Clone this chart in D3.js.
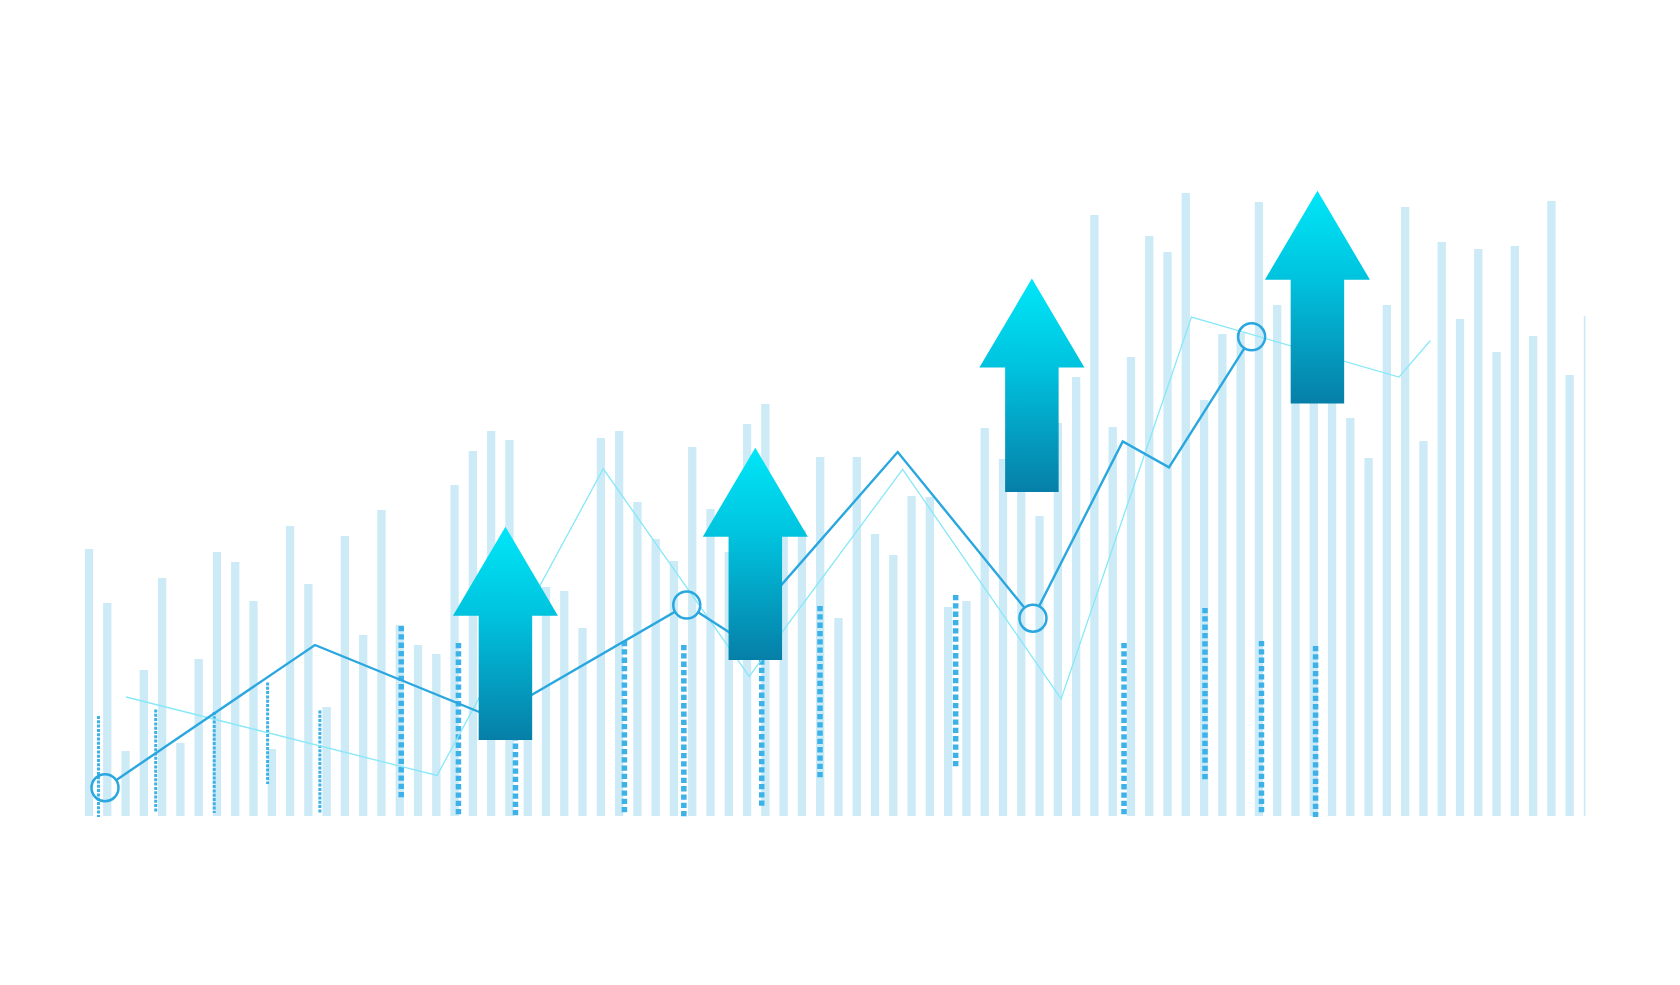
<!DOCTYPE html>
<html>
<head>
<meta charset="utf-8">
<script src="https://cdn.jsdelivr.net/npm/d3@7"></script>
<style>
  html, body { margin: 0; padding: 0; background: #fff; }
  svg { display: block; }
</style>
</head>
<body>
<svg class="chart"></svg>
<script>
// bar heights, one per slot (0..82)
const barValues = [
  267, 213, 65, 146, 238, 73, 157, 264, 254, 215,
  67, 290, 232, 109, 280, 181, 306, 191, 171, 162,
  331, 365, 385, 376, 210, 229, 225, 188, 378, 385,
  314, 277, 255, 369, 307, 264, 392, 412, 296, 286,
  359, 198, 359, 282, 261, 320, 319, 209, 215, 388,
  357, 360, 300, 393, 439, 601, 389, 459, 580, 564,
  623, 416, 482, 483, 614, 511, 470, 520, 490, 398,
  358, 511, 609, 375, 574, 497, 567, 464, 570, 480,
  615, 441, 500
];

// dotted volume ticks: slot position, low, high
const tickSmallPos  = [0.52, 3.65, 6.85, 9.77, 12.63];
const tickSmallLow  = [-1, 4.5, 3, 32, 3.5];
const tickSmallHigh = [100, 106.5, 104, 133.5, 105.5];

const tickLargePos  = [17.08, 20.21, 23.33, 29.29, 32.54, 36.8, 39.99, 47.41, 56.62, 61.05, 64.14, 67.1];
const tickLargeLow  = [18, 0, 0, 3, -1, 9.5, 38, 49, 1, 35, 3, -1];
const tickLargeHigh = [190, 173, 172, 175, 171, 181.5, 210, 221, 173, 208, 175, 170];

// main trend line
const trendX = [0.875, 12.36, 22.09, 32.7, 35.4, 44.24, 51.64, 56.55, 59.08, 63.6];
const trendY = [28.3, 171, 98.5, 211, 179.2, 364, 197.8, 374.5, 348.6, 479.2];
const markerIdx = [0, 3, 6, 9];

// faint secondary line
const faintX = [2.03, 19.04, 28.13, 36.12, 44.51, 53.18, 60.31, 71.66, 73.38];
const faintY = [119, 40.5, 347.2, 139.6, 346.7, 117.1, 498.9, 438.9, 475.5];

// up arrows: slot, bottom value, tip value
const arrowX    = [22.78, 36.45, 51.58, 67.2];
const arrowBase = [76, 156, 324, 412.5];
const arrowTip  = [289.3, 368.3, 537.4, 625.3];

const width = 1680, height = 985;

const svg = d3.select(".chart")
  .attr("width", width)
  .attr("height", height);

const x = d3.scaleLinear().domain([0, 82]).range([89, 1587.96]);
const y = d3.scaleLinear().domain([0, 650]).range([816, 166]);

const defs = svg.append("defs");

defs.append("clipPath").attr("id", "plot-clip")
  .append("rect")
  .attr("x", 0).attr("y", 0)
  .attr("width", 1585.5).attr("height", height);

// arrow gradient
const grad = defs.append("linearGradient")
  .attr("id", "arrow-grad")
  .attr("x1", 0).attr("y1", 0).attr("x2", 0).attr("y2", 1);
grad.append("stop").attr("offset", "0%").attr("stop-color", "#00e6f8");
grad.append("stop").attr("offset", "40%").attr("stop-color", "#00c4df");
grad.append("stop").attr("offset", "100%").attr("stop-color", "#067fa8");

// mask so the trend line stops at the ring markers
const mask = defs.append("mask").attr("id", "ring-mask")
  .attr("maskUnits", "userSpaceOnUse")
  .attr("x", 0).attr("y", 0).attr("width", width).attr("height", height);
mask.append("rect").attr("width", width).attr("height", height).attr("fill", "#fff");
mask.selectAll("circle")
  .data(markerIdx)
  .enter()
  .append("circle")
  .attr("cx", i => x(trendX[i]))
  .attr("cy", i => y(trendY[i]))
  .attr("r", 14)
  .attr("fill", "#000");

const plot = svg.append("g").attr("clip-path", "url(#plot-clip)");

// light bars
const barW = 8.3;
plot.selectAll(".bar")
  .data(barValues)
  .enter()
  .append("rect")
  .attr("class", "bar")
  .attr("x", (d, i) => x(i) - barW / 2)
  .attr("y", d => y(d))
  .attr("width", barW)
  .attr("height", d => y(0) - y(d))
  .attr("fill", "#cdeaf7");

// dotted ticks (small)
plot.selectAll(".tick-s")
  .data(tickSmallPos)
  .enter()
  .append("line")
  .attr("class", "tick-s")
  .attr("x1", d => x(d)).attr("x2", d => x(d))
  .attr("y1", (d, i) => y(tickSmallHigh[i]))
  .attr("y2", (d, i) => y(tickSmallLow[i]))
  .attr("stroke", "#3cb2e8")
  .attr("stroke-width", 3)
  .attr("stroke-dasharray", "3,1.3");

// dotted ticks (large)
plot.selectAll(".tick-l")
  .data(tickLargePos)
  .enter()
  .append("line")
  .attr("class", "tick-l")
  .attr("x1", d => x(d)).attr("x2", d => x(d))
  .attr("y1", (d, i) => y(tickLargeHigh[i]))
  .attr("y2", (d, i) => y(tickLargeLow[i]))
  .attr("stroke", "#3cb2e8")
  .attr("stroke-width", 5.5)
  .attr("stroke-dasharray", "5.3,3");

// faint line
const line = d3.line().x(d => x(d[0])).y(d => y(d[1]));

plot.append("path")
  .datum(faintX.map((v, i) => [v, faintY[i]]))
  .attr("d", line)
  .attr("fill", "none")
  .attr("stroke", "#86e8f8")
  .attr("stroke-width", 1.3);

// main line
plot.append("path")
  .datum(trendX.map((v, i) => [v, trendY[i]]))
  .attr("d", line)
  .attr("fill", "none")
  .attr("stroke", "#2aa7df")
  .attr("stroke-width", 2.4)
  .attr("stroke-linejoin", "miter")
  .attr("mask", "url(#ring-mask)");

// ring markers
plot.selectAll(".ring")
  .data(markerIdx)
  .enter()
  .append("circle")
  .attr("class", "ring")
  .attr("cx", i => x(trendX[i]))
  .attr("cy", i => y(trendY[i]))
  .attr("r", 13.5)
  .attr("fill", "none")
  .attr("stroke", "#2aa7df")
  .attr("stroke-width", 2.5);

// arrows
const headW = 105, shaftW = 53.5, headH = 89;
svg.selectAll(".arrow")
  .data(arrowX)
  .enter()
  .append("path")
  .attr("class", "arrow")
  .attr("fill", "url(#arrow-grad)")
  .attr("d", (d, i) => {
    const cx = x(d), top = y(arrowTip[i]), bottom = y(arrowBase[i]);
    const hb = top + headH;
    return `M${cx},${top} L${cx + headW / 2},${hb} L${cx + shaftW / 2},${hb} ` +
      `L${cx + shaftW / 2},${bottom} L${cx - shaftW / 2},${bottom} ` +
      `L${cx - shaftW / 2},${hb} L${cx - headW / 2},${hb} Z`;
  });
</script>
</body>
</html>
